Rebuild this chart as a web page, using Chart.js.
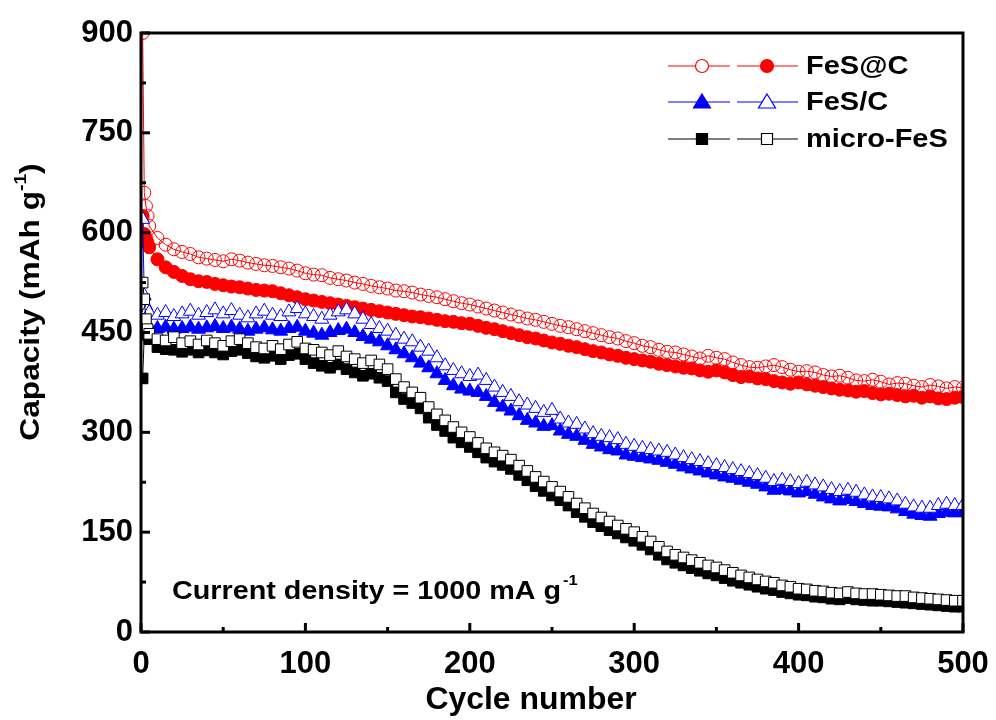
<!DOCTYPE html>
<html>
<head>
<meta charset="utf-8">
<script src="https://cdn.jsdelivr.net/npm/chart.js@4.4.0/dist/chart.umd.min.js"></script>
<style>
  html, body { margin: 0; padding: 0; background: #fff; }
</style>
</head>
<body>
<canvas id="capChart" width="996" height="720"></canvas>
<script>
// cycle numbers that were sampled off the figure
const cycles = [1, 2, 3, 4,
  5, 10, 15, 20, 25, 30, 35, 40, 45, 50,
  55, 60, 65, 70, 75, 80, 85, 90, 95, 100,
  105, 110, 115, 120, 125, 130, 135, 140, 145, 150,
  155, 160, 165, 170, 175, 180, 185, 190, 195, 200,
  205, 210, 215, 220, 225, 230, 235, 240, 245, 250,
  255, 260, 265, 270, 275, 280, 285, 290, 295, 300,
  305, 310, 315, 320, 325, 330, 335, 340, 345, 350,
  355, 360, 365, 370, 375, 380, 385, 390, 395, 400,
  405, 410, 415, 420, 425, 430, 435, 440, 445, 450,
  455, 460, 465, 470, 475, 480, 485, 490, 495, 500];

// FeS@C
const fescOpen = [900, 660, 640, 625,
  610, 592, 582, 575, 571, 568, 563, 561, 559, 557,
  560, 558, 555, 553, 551, 550, 548, 546, 543, 539,
  537, 536, 532, 530, 528, 525, 523, 520, 518, 516,
  513, 512, 510, 507, 505, 503, 500, 497, 494, 492,
  489, 486, 483, 480, 477, 474, 471, 469, 466, 463,
  460, 458, 455, 452, 449, 446, 443, 441, 437, 434,
  430, 428, 424, 421, 420, 417, 414, 411, 415, 412,
  410, 405, 401, 398, 397, 399, 401, 398, 394, 391,
  392, 390, 386, 384, 385, 382, 378, 377, 379, 376,
  372, 374, 373, 370, 368, 371, 369, 366, 368, 367];
const fescFilled = [625, 598, 592, 585,
  578, 560, 548, 541, 535, 530, 527, 526, 523, 521,
  519, 518, 516, 514, 513, 512, 509, 506, 503, 500,
  498, 496, 494, 492, 490, 488, 486, 484, 482, 480,
  478, 476, 474, 473, 471, 469, 467, 466, 464, 463,
  460, 457, 455, 452, 449, 446, 443, 441, 438, 435,
  433, 430, 428, 425, 422, 420, 417, 415, 412, 410,
  408, 406, 403, 401, 399, 397, 396, 393, 391, 393,
  390, 386, 383, 384, 381, 380, 377, 375, 373, 375,
  372, 370, 368, 366, 364, 363, 361, 362, 359, 357,
  358, 356, 354, 355, 352, 354, 351, 350, 352, 353];

// FeS/C
const fesCFilled = [480, 468, 462, 460,
  458, 456, 458, 455, 456, 458, 455, 457, 459, 456,
  458, 455, 452, 455, 457, 454, 452, 456, 458, 452,
  449, 446, 450, 453, 455, 450, 444, 440, 436, 430,
  424, 418, 412, 404, 397, 388, 378, 370, 365, 362,
  360, 354, 345, 338, 332, 325, 318, 314, 309, 310,
  302, 297, 294, 288, 282, 278, 274, 272, 266, 264,
  262, 260, 258, 255, 252, 248, 245, 242, 239, 236,
  233, 231, 228, 225, 222, 218, 213, 214, 212, 209,
  211, 207, 203, 200, 197, 199, 196, 193, 190, 189,
  188, 185, 181, 177, 175, 174, 178, 180, 179, 180];
const fesCOpen = [620, 505, 490, 484,
  480, 476, 480, 474, 478, 482, 476, 480, 484, 478,
  483, 476, 472, 478, 482, 476, 474, 481, 486, 478,
  474, 470, 476, 481, 484, 478, 470, 462, 456, 452,
  446, 440, 436, 428, 422, 412, 400, 393, 388, 384,
  386, 378, 368, 360, 354, 346, 341, 336, 330, 333,
  320, 314, 312, 305, 298, 294, 292, 289, 282, 279,
  276, 274, 272, 270, 266, 262, 259, 256, 253, 250,
  247, 244, 241, 238, 235, 231, 226, 228, 226, 223,
  225, 221, 218, 214, 211, 213, 210, 206, 203, 202,
  200, 197, 192, 188, 186, 186, 190, 192, 190, 190];

// micro-FeS
const microFilled = [381, 448, 452, 446,
  440, 428, 425, 424, 421, 424, 420, 423, 420, 417,
  422, 424, 419, 414, 412, 415, 410, 416, 418, 410,
  404, 400, 397, 402, 395, 390, 385, 388, 382, 377,
  360, 350, 344, 336, 322, 311, 302, 292, 285, 278,
  270, 262, 256, 251, 245, 236, 228, 219, 212, 205,
  198, 190, 180, 173, 165, 159, 153, 148, 142, 137,
  131, 124, 116, 109, 104, 100, 96, 92, 88, 85,
  81, 77, 74, 71, 68, 65, 63, 60, 58, 56,
  55, 53, 52, 50, 49, 51, 49, 48, 47, 47,
  46, 45, 44, 43, 42, 41, 40, 39, 38, 38];
const microOpen = [525, 500, 470, 455,
  448, 440, 438, 443, 434, 437, 432, 438, 434, 430,
  437, 440, 434, 428, 426, 430, 425, 432, 436, 426,
  424, 420, 416, 422, 414, 410, 404, 408, 402, 395,
  380, 368, 360, 352, 338, 327, 318, 308, 300, 293,
  284, 276, 270, 265, 259, 250, 242, 233, 226, 218,
  211, 203, 193, 186, 178, 172, 166, 160, 155, 150,
  143, 136, 128, 121, 116, 112, 108, 104, 100, 97,
  93, 89, 85, 82, 79, 76, 74, 70, 68, 65,
  64, 62, 61, 59, 58, 60, 58, 57, 57, 56,
  55, 54, 54, 52, 51, 50, 49, 48, 47, 47];

const xTicks = [0, 100, 200, 300, 400, 500];
const xMinor = [50, 150, 250, 350, 450];
const yTicks = [0, 150, 300, 450, 600, 750, 900];
const yMinor = [75, 225, 375, 525, 675, 825];

const FONT = '"Liberation Sans", Arial, sans-serif';

function pts(vals) {
  return cycles.map((c, i) => ({ x: c, y: vals[i] }));
}

function series(label, vals, color, style, filled, radius, order) {
  return {
    label: label,
    data: pts(vals),
    borderColor: color,
    borderWidth: 1,
    pointStyle: style,
    pointRadius: radius,
    pointBorderWidth: 1,
    pointBorderColor: color,
    pointBackgroundColor: filled ? color : (style === 'circle' ? 'rgba(0,0,0,0)' : '#fff'),
    tension: 0,
    order: order
  };
}

// draw one legend marker
function marker(ctx, style, x, y, color, filled) {
  ctx.save();
  ctx.strokeStyle = color;
  ctx.fillStyle = filled ? color : '#fff';
  ctx.lineWidth = 1.2;
  ctx.beginPath();
  if (style === 'circle') {
    ctx.arc(x, y, 6.5, 0, Math.PI * 2);
  } else if (style === 'triangle') {
    ctx.moveTo(x, y - 8);
    ctx.lineTo(x + 8.5, y + 6);
    ctx.lineTo(x - 8.5, y + 6);
    ctx.closePath();
  } else {
    ctx.rect(x - 5.5, y - 5.5, 11, 11);
  }
  ctx.fill();
  ctx.stroke();
  ctx.restore();
}

// text stretched sideways a little, like the original figure
function wideText(ctx, text, x, y, stretch) {
  ctx.save();
  ctx.translate(x, y);
  ctx.scale(stretch, 1);
  ctx.fillText(text, 0, 0);
  ctx.restore();
  return ctx.measureText(text).width * stretch;
}

const decorations = {
  id: 'decorations',
  afterDraw(chart) {
    const ctx = chart.ctx;
    const a = chart.chartArea;
    const xs = chart.scales.x, ys = chart.scales.y;
    ctx.save();
    ctx.strokeStyle = '#000';

    // inward ticks
    ctx.lineWidth = 3;
    xTicks.forEach(v => {
      const px = xs.getPixelForValue(v);
      ctx.beginPath(); ctx.moveTo(px, a.bottom); ctx.lineTo(px, a.bottom - 9); ctx.stroke();
    });
    xMinor.forEach(v => {
      const px = xs.getPixelForValue(v);
      ctx.beginPath(); ctx.moveTo(px, a.bottom); ctx.lineTo(px, a.bottom - 5); ctx.stroke();
    });
    yTicks.forEach(v => {
      const py = ys.getPixelForValue(v);
      ctx.beginPath(); ctx.moveTo(a.left, py); ctx.lineTo(a.left + 9, py); ctx.stroke();
    });
    yMinor.forEach(v => {
      const py = ys.getPixelForValue(v);
      ctx.beginPath(); ctx.moveTo(a.left, py); ctx.lineTo(a.left + 5, py); ctx.stroke();
    });

    // frame
    ctx.strokeRect(a.left, a.top, a.right - a.left, a.bottom - a.top);

    // legend
    const rows = [
      { y: 66, label: 'FeS@C', color: '#ff0000', style: 'circle', first: false, second: true },
      { y: 102, label: 'FeS/C', color: '#0000ff', style: 'triangle', first: true, second: false },
      { y: 139, label: 'micro-FeS', color: '#000000', style: 'rect', first: true, second: false }
    ];
    rows.forEach(r => {
      ctx.strokeStyle = r.color;
      ctx.lineWidth = 1;
      ctx.beginPath();
      ctx.moveTo(668, r.y); ctx.lineTo(730, r.y);
      ctx.moveTo(737, r.y); ctx.lineTo(798, r.y);
      ctx.stroke();
      marker(ctx, r.style, 702, r.y, r.color, r.first);
      marker(ctx, r.style, 767, r.y, r.color, r.second);
      ctx.fillStyle = '#000';
      ctx.font = 'bold 25px ' + FONT;
      ctx.textBaseline = 'middle';
      ctx.textAlign = 'left';
      wideText(ctx, r.label, 806, r.y + 1, 1.16);
    });

    // current density note
    ctx.fillStyle = '#000';
    ctx.textBaseline = 'alphabetic';
    ctx.textAlign = 'left';
    ctx.font = 'bold 25px ' + FONT;
    const nw = wideText(ctx, 'Current density = 1000 mA g', 172, 599, 1.15);
    ctx.font = 'bold 15px ' + FONT;
    wideText(ctx, '-1', 172 + nw + 2, 585, 1.1);

    // axis titles
    ctx.font = 'bold 31px ' + FONT;
    ctx.textAlign = 'center';
    wideText(ctx, 'Cycle number', 531, 709, 1.03);

    ctx.save();
    ctx.translate(39, 302);
    ctx.rotate(-Math.PI / 2);
    ctx.scale(1.13, 1);
    ctx.textAlign = 'left';
    ctx.font = 'bold 28px ' + FONT;
    const t1 = 'Capacity (mAh g';
    const w1 = ctx.measureText(t1).width;
    ctx.font = 'bold 17px ' + FONT;
    const w2 = ctx.measureText('-1').width;
    ctx.font = 'bold 28px ' + FONT;
    const w3 = ctx.measureText(')').width;
    const start = -(w1 + w2 + w3) / 2;
    ctx.fillText(t1, start, 0);
    ctx.font = 'bold 17px ' + FONT;
    ctx.fillText('-1', start + w1, -13);
    ctx.font = 'bold 28px ' + FONT;
    ctx.fillText(')', start + w1 + w2, 0);
    ctx.restore();

    ctx.restore();
  }
};

const config = {
  type: 'line',
  data: {
    datasets: [
      series('FeS@C open', fescOpen, '#ff0000', 'circle', false, 6.5, 6),
      series('FeS@C filled', fescFilled, '#ff0000', 'circle', true, 6.5, 5),
      series('FeS/C filled', fesCFilled, '#0000ff', 'triangle', true, 8, 4),
      series('FeS/C open', fesCOpen, '#0000ff', 'triangle', false, 8, 3),
      series('micro-FeS filled', microFilled, '#000000', 'rect', true, 7.5, 2),
      series('micro-FeS open', microOpen, '#000000', 'rect', false, 7.5, 1)
    ]
  },
  options: {
    responsive: false,
    animation: false,
    devicePixelRatio: 1,
    layout: { padding: { top: 33, right: 33, left: 0, bottom: 0 } },
    plugins: {
      legend: { display: false },
      tooltip: { enabled: false }
    },
    scales: {
      x: {
        type: 'linear',
        min: 0,
        max: 500,
        afterFit: s => { s.height = 88; },
        afterBuildTicks: s => { s.ticks = xTicks.map(v => ({ value: v })); },
        grid: { display: false },
        border: { display: false },
        ticks: {
          color: '#000',
          padding: 6,
          maxRotation: 0,
          font: { family: FONT, size: 31, weight: 'bold' }
        }
      },
      y: {
        type: 'linear',
        min: 0,
        max: 900,
        afterFit: s => { s.width = 141; },
        afterBuildTicks: s => { s.ticks = yTicks.map(v => ({ value: v })); },
        grid: { display: false },
        border: { display: false },
        ticks: {
          color: '#000',
          padding: 0,
          font: { family: FONT, size: 31, weight: 'bold' }
        }
      }
    }
  },
  plugins: [decorations]
};

const capChart = new Chart(document.getElementById('capChart'), config);
</script>
</body>
</html>
